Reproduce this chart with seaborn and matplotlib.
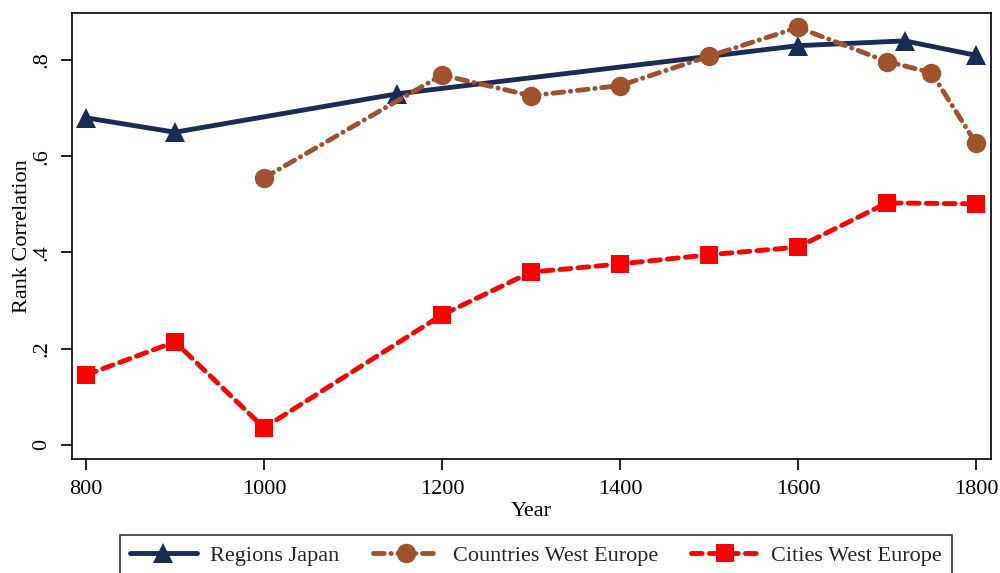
import matplotlib
matplotlib.use("Agg")
import matplotlib.pyplot as plt
import seaborn as sns
import pandas as pd

# Rank correlation of population over time
japan_years = [800, 900, 1150, 1600, 1720, 1800]
japan_corr = [0.68, 0.65, 0.73, 0.83, 0.84, 0.81]

countries_years = [1000, 1200, 1300, 1400, 1500, 1600, 1700, 1750, 1800]
countries_corr = [0.555, 0.769, 0.726, 0.747, 0.808, 0.868, 0.797, 0.774, 0.627]

cities_years = [800, 900, 1000, 1200, 1300, 1400, 1500, 1600, 1700, 1800]
cities_corr = [0.145, 0.214, 0.035, 0.270, 0.359, 0.376, 0.395, 0.411, 0.503, 0.501]

x_ticks = [800, 1000, 1200, 1400, 1600, 1800]
y_ticks = [0, 0.2, 0.4, 0.6, 0.8]
y_tick_labels = ["0", ".2", ".4", ".6", ".8"]

sns.set_theme(style="ticks")
plt.rcParams["font.family"] = ["Liberation Serif", "DejaVu Serif"]

fig = plt.figure(figsize=(10, 5.73), dpi=100)
ax = fig.add_axes([0.072, 0.1984, 0.919, 0.7789])

fs = 16
lw = 3.5
series = [
    ("Regions Japan", japan_years, japan_corr, "#1b2b57", "^", 14.5, "-"),
    ("Countries West Europe", countries_years, countries_corr, "#a0522d", "o", 14, (0, (2.2, 1.4, 0.05, 1.4))),
    ("Cities West Europe", cities_years, cities_corr, "#ff0000", "s", 13, (0, (2.2, 1.5))),
]

for label, xs, ys, color, marker, ms, ls in series:
    df = pd.DataFrame({"Year": xs, "corr": ys})
    sns.lineplot(data=df, x="Year", y="corr", ax=ax, color=color, marker=marker,
                 markersize=ms, markeredgewidth=0, linewidth=lw, linestyle=ls,
                 dash_capstyle="round", solid_capstyle="round", label=label,
                 legend=False)

ax.set_xlim(784.3, 1816.9)
ax.set_ylim(-0.0304, 0.898)
ax.set_xticks(x_ticks)
ax.set_yticks(y_ticks)
ax.set_yticklabels(y_tick_labels, rotation=90, va="center")
ax.tick_params(axis="both", direction="out", length=8, width=1.2, color="black",
               labelsize=fs, labelcolor="black")
ax.tick_params(axis="x", pad=7)
ax.tick_params(axis="y", pad=7)
for sp in ax.spines.values():
    sp.set_color("black")
    sp.set_linewidth(1.2)

ax.set_xlabel("Year", fontsize=fs, color="black", labelpad=2)
ax.set_ylabel("Rank Correlation", fontsize=fs, color="black", labelpad=0)

handles, labels = ax.get_legend_handles_labels()
leg = fig.legend(handles, labels, loc="upper center", bbox_to_anchor=(0.536, 1 - 524 / 573),
                 ncol=3, frameon=True, fancybox=False, fontsize=fs, handlelength=3.0,
                 columnspacing=1.5, handletextpad=0.6, borderpad=0.45)
leg.get_frame().set_edgecolor("black")
leg.get_frame().set_linewidth(1.2)

fig.savefig("out.png", dpi=100, facecolor="white")
